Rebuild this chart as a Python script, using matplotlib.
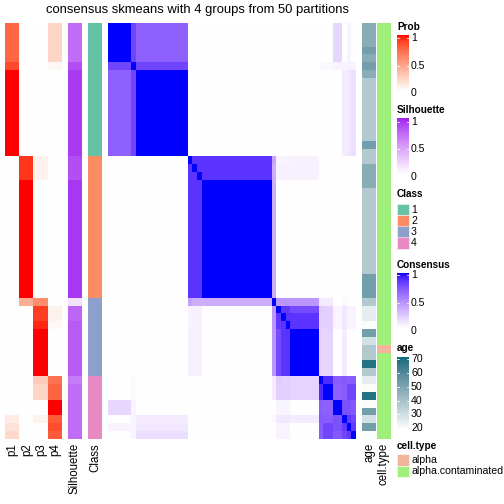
import numpy as np
import matplotlib
matplotlib.use('Agg')
import matplotlib.pyplot as plt
from matplotlib.colors import ListedColormap, to_rgb
from matplotlib.patches import Rectangle

plt.rcParams['font.family'] = ['Liberation Sans', 'DejaVu Sans']

# ── Data ───────────────────────────────────────────────────
# consensus matrix, stored as blocks of consecutive samples
seg_sizes = [5, 1, 11, 1, 1, 1, 15, 1, 1, 1, 1, 6, 1, 2, 2, 1, 1, 1]
seg_upper = [
    [1, .80, .68, 0, 0, 0, 0, 0, 0, 0, 0, 0, 0, 0, .17, 0, .05, 0],
    [1, .80, 0, 0, 0, 0, 0, 0, 0, 0, 0, .03, .03, .05, .05, .05, .05],
    [1, 0, 0, 0, 0, 0, 0, 0, 0, 0, 0, 0, 0, .08, .10, .14],
    [1, .87, .87, .87, .40, .05, .05, .05, .06, 0, 0, 0, 0, 0, 0],
    [1, .87, .87, .35, .06, .06, .06, .06, 0, 0, 0, 0, 0, 0],
    [1, .87, .35, .06, .06, .06, .06, 0, 0, 0, 0, 0, 0],
    [1, .35, 0, 0, 0, 0, 0, 0, 0, 0, 0, 0],
    [1, .45, .45, .45, .45, .08, .08, 0, .03, 0, 0],
    [1, .85, .85, .78, .22, .20, .04, .10, .05, .05],
    [1, .87, .87, .20, .20, .04, .10, .05, .05],
    [1, .87, .20, .20, .04, .10, .05, .05],
    [1, .18, .18, 0, .08, 0, 0],
    [1, .90, .70, .72, .70, .70],
    [1, .68, .70, .80, .80],
    [1, .75, .75, .72],
    [1, .85, .80],
    [1, .85],
    [1],
]

p1 = [.75]*5 + [.86] + [1]*11 + [0]*33 + [.10, .15, .20]
p2 = [0]*17 + [.92]*3 + [1]*15 + [.42] + [0]*17
p3 = [0]*17 + [.07]*3 + [0]*15 + [.58, .90, .90, .95] + [1]*6 + [.28, .22, .22, 0, 0, .07, 0, 0]
p4 = [.22]*5 + [.05] + [0]*30 + [.07, .07, .03] + [0]*6 + [.70, .76, .76, 1, 1, .80, .85, .80]
silhouette = [.72]*5 + [.85] + [.92]*11 + [.85]*3 + [.93]*15 + [.15, .75, .75] + [.8]*7 + [.65] + [.72]*7
klass = [1]*17 + [2]*18 + [3]*10 + [4]*8
age = [47, 47, 47, 52, 47, 52, 47, 37, 37, 37, 37, 37, 37, 37, 37, 52, 37,
       37, 47, 47, 47, 37, 37, 37, 37, 37, 37, 37, 37, 37, 37, 37, 52, 52, 52,
       37, 25, 25, 20, 52, 29, 37, 37, 68, 37,
       25, 20, 68, 20, 52, 29, 52, 20]
cell_type = ['alpha.contaminated']*41 + ['alpha'] + ['alpha.contaminated']*11

class_levels = [1, 2, 3, 4]
class_colors = ['#66C2A5', '#FC8D62', '#8DA0CB', '#E78AC3']
cell_levels = ['alpha', 'alpha.contaminated']
cell_colors = ['#F4B49B', '#9EF07A']
age_min, age_max = 19, 71

# ── LAB colour ramps (like colorRamp2) ─────────────────────
M_RGB2XYZ = np.array([[0.4124, 0.3576, 0.1805],
                      [0.2126, 0.7152, 0.0722],
                      [0.0193, 0.1192, 0.9505]])
WP = np.array([0.95047, 1.0, 1.08883])


def to_lab(col):
    c = np.array(to_rgb(col))
    lin = np.where(c <= 0.04045, c / 12.92, ((c + 0.055) / 1.055) ** 2.4)
    t = M_RGB2XYZ @ lin / WP
    f = np.where(t > (6 / 29) ** 3, np.cbrt(t), t / (3 * (6 / 29) ** 2) + 4 / 29)
    return np.array([116 * f[1] - 16, 500 * (f[0] - f[1]), 200 * (f[1] - f[2])])


def from_lab(lab):
    L, a, b = lab[:, 0], lab[:, 1], lab[:, 2]
    fy = (L + 16) / 116
    fx = fy + a / 500
    fz = fy - b / 200
    inv = lambda f: np.where(f > 6 / 29, f ** 3, 3 * (6 / 29) ** 2 * (f - 4 / 29))
    xyz = np.stack([inv(fx), inv(fy), inv(fz)], axis=1) * WP
    lin = xyz @ np.linalg.inv(M_RGB2XYZ).T
    lin = np.clip(lin, 0, 1)
    rgb = np.where(lin <= 0.0031308, 12.92 * lin, 1.055 * lin ** (1 / 2.4) - 0.055)
    return np.clip(rgb, 0, 1)


def ramp(c0, c1, n=256):
    t = np.linspace(0, 1, n)[:, None]
    return ListedColormap(from_lab((1 - t) * to_lab(c0) + t * to_lab(c1)))


prob_cmap = ramp('white', '#FF0000')
sil_cmap = ramp('white', '#A020F0')
cons_cmap = ramp('white', '#0000FF')
age_cmap = ramp('white', '#0B6B7E')

# ── Build consensus matrix ─────────────────────────────────
nseg = len(seg_sizes)
S = np.zeros((nseg, nseg))
for i, row in enumerate(seg_upper):
    for k, v in enumerate(row):
        S[i, i + k] = v
        S[i + k, i] = v
idx = np.repeat(np.arange(nseg), seg_sizes)
consensus = S[np.ix_(idx, idx)]

# ── Figure ─────────────────────────────────────────────────
W = H = 504
fig = plt.figure(figsize=(7, 7), dpi=72)
TOP, BOT = 23, 439


def px_axes(x0, y0, x1, y1):
    ax = fig.add_axes([x0 / W, 1 - y1 / H, (x1 - x0) / W, (y1 - y0) / H])
    ax.set_axis_off()
    return ax


ax = px_axes(5, TOP, 62, BOT)
ax.imshow(np.column_stack([p1, p2, p3, p4]), cmap=prob_cmap, vmin=0, vmax=1,
          aspect='auto', interpolation='nearest')

ax = px_axes(68, TOP, 82, BOT)
ax.imshow(np.array(silhouette)[:, None], cmap=sil_cmap, vmin=0, vmax=1,
          aspect='auto', interpolation='nearest')

ax = px_axes(88, TOP, 102, BOT)
ax.imshow(np.array([class_levels.index(k) for k in klass])[:, None],
          cmap=ListedColormap(class_colors), vmin=0, vmax=3,
          aspect='auto', interpolation='nearest')

ax = px_axes(108, TOP, 356, BOT)
ax.imshow(consensus, cmap=cons_cmap, vmin=0, vmax=1, aspect='auto',
          interpolation='nearest')

ax = px_axes(362, TOP, 376, BOT)
ax.imshow(np.array(age)[:, None], cmap=age_cmap, vmin=age_min, vmax=age_max,
          aspect='auto', interpolation='nearest')

ax = px_axes(377, TOP, 391, BOT)
ax.imshow(np.array([cell_levels.index(c) for c in cell_type])[:, None],
          cmap=ListedColormap(cell_colors), vmin=0, vmax=1,
          aspect='auto', interpolation='nearest')

# column labels under the annotations
for xc, lab in [(12.5, 'p1'), (27, 'p2'), (41, 'p3'), (55, 'p4'),
                (75, 'Silhouette'), (95, 'Class'), (369, 'age'), (384, 'cell.type')]:
    fig.text(xc / W, 1 - 443 / H, lab, rotation=90, ha='center', va='top', fontsize=11.5)

fig.text(198 / W, 1 - 10 / H, 'consensus skmeans with 4 groups from 50 partitions',
         ha='center', va='center', fontsize=13)

# ── Legends ────────────────────────────────────────────────
LX0, LX1 = 397, 409


def legend_title(y, txt):
    fig.text(LX0 / W, 1 - y / H, txt, ha='left', va='center', fontsize=10,
             fontweight='bold')


def legend_bar(y0, y1, cmap, vmin, vmax, ticks):
    ax = px_axes(LX0, y0, LX1, y1)
    grad = np.linspace(vmax, vmin, 200)[:, None]
    ax.imshow(grad, cmap=cmap, vmin=vmin, vmax=vmax, aspect='auto',
              interpolation='bilinear', extent=[0, 1, y1, y0])
    ax.set_xlim(0, 1)
    ax.set_ylim(y1, y0)
    for yl, lab in ticks:
        if yl < y1 - 1:
            ax.plot([0, 0.2], [yl, yl], color='white', lw=0.8)
            ax.plot([0.8, 1], [yl, yl], color='white', lw=0.8)
        fig.text(411 / W, 1 - yl / H, lab, ha='left', va='center', fontsize=10.5)


def legend_boxes(ys, colors, labels):
    for (y0, y1), col, lab in zip(ys, colors, labels):
        fig.patches.append(Rectangle((LX0 / W, 1 - y1 / H), (LX1 - LX0) / W, (y1 - y0) / H,
                                     transform=fig.transFigure, facecolor=col,
                                     edgecolor='white', lw=0.5))
        fig.text(411 / W, 1 - (y0 + y1) / 2 / H, lab, ha='left', va='center', fontsize=10.5)


legend_title(27, 'Prob')
legend_bar(35, 91, prob_cmap, 0, 1, [(38, '1'), (66, '0.5'), (93, '0')])

legend_title(110, 'Silhouette')
legend_bar(118, 174, sil_cmap, 0, 1, [(122, '1'), (149, '0.5'), (177, '0')])

legend_title(194, 'Class')
legend_boxes([(204, 215), (215, 226.5), (226.5, 237.5), (237.5, 248.5)],
             class_colors, [str(k) for k in class_levels])

legend_title(265, 'Consensus')
legend_bar(273, 328, cons_cmap, 0, 1, [(275, '1'), (303, '0.5'), (331, '0')])

legend_title(348, 'age')
legend_bar(357, 430, age_cmap, age_min, age_max,
           [(359, '70'), (373, '60'), (387, '50'), (401, '40'), (414, '30'), (428, '20')])

legend_title(446, 'cell.type')
legend_boxes([(454, 465.5), (465.5, 477)], cell_colors, cell_levels)

fig.savefig('out.png', dpi=72)
